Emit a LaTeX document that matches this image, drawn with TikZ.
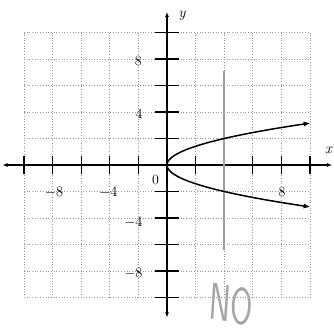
\documentclass[tikz,border=0pt]{standalone}
\usetikzlibrary{arrows.meta}
\begin{document}
\begin{tikzpicture}[x=14.3pt,y=13.25pt,
  gridline/.style={gray!80,dotted,line width=0.7pt},
  axisline/.style={black,line width=1.1pt,{Latex[length=5pt,width=4pt]}-{Latex[length=5pt,width=4pt]}},
  tickmark/.style={black,line width=1.1pt},
  lbl/.style={font=\fontsize{14}{14}\selectfont,inner sep=0pt},
  curve/.style={black,line width=1.5pt,-{Latex[length=7pt,width=5pt]}},
  pencil/.style={gray!75,line width=2.2pt}]
\useasboundingbox (-11.678,-12.377) rectangle (11.678,12.453);
% grid
\foreach \v in {-10,-8,...,10}{
  \draw[gridline] (\v,-10) -- (\v,10);
  \draw[gridline] (-10,\v) -- (10,\v);
}
% axes
\coordinate (xl) at (-11.5,0);
\coordinate (xr) at (11.55,0);
\coordinate (yb) at (0,-11.5);
\coordinate (yt) at (0,11.55);
\draw[axisline] (xl) -- (xr);
\draw[axisline] (yb) -- (yt);
\foreach \v in {-10,-8,-6,-4,-2,2,4,6,8,10}{
  \draw[tickmark] (\v,-0.7) -- (\v,0.7);
  \draw[tickmark] (-0.85,\v) -- (0.85,\v);
}
% labels
\node[lbl,font=\fontsize{15}{15}\selectfont\itshape] (ylab) at (1.05,11.3) {y};
\node[lbl,font=\fontsize{15}{15}\selectfont\itshape] (xlab) at (11.3,1.1) {x};
\node[lbl] (l8y) at (-2.0,7.85) {8};
\node[lbl] (l4y) at (-1.95,3.9) {4};
\node[lbl] (l0) at (-0.8,-1.15) {0};
\node[lbl] (lm4y) at (-2.35,-4.3) {$-4$};
\node[lbl] (lm8y) at (-2.35,-8.15) {$-8$};
\node[lbl] (lm8x) at (-7.9,-2.05) {$-8$};
\node[lbl] (lm4x) at (-4.1,-2.05) {$-4$};
\node[lbl] (l8x) at (8.05,-2.0) {8};
% vertical line x = 4
\coordinate (vt) at (4,7.1);
\coordinate (vb) at (4,-6.4);
\draw[pencil] (vt) -- (vb);
% parabola x = y^2
\draw[curve] plot[domain=0:3.17,samples=40,smooth] ({\x*\x},{\x});
\draw[curve] plot[domain=0:-3.17,samples=40,smooth] ({\x*\x},{\x});
% handwritten NO
\node[inner sep=0pt,text=gray!70,font=\sffamily\fontsize{52}{52}\selectfont,xscale=0.62,rotate=-6] (no) at (4.5,-10.5) {NO};
\end{tikzpicture}
\end{document}
